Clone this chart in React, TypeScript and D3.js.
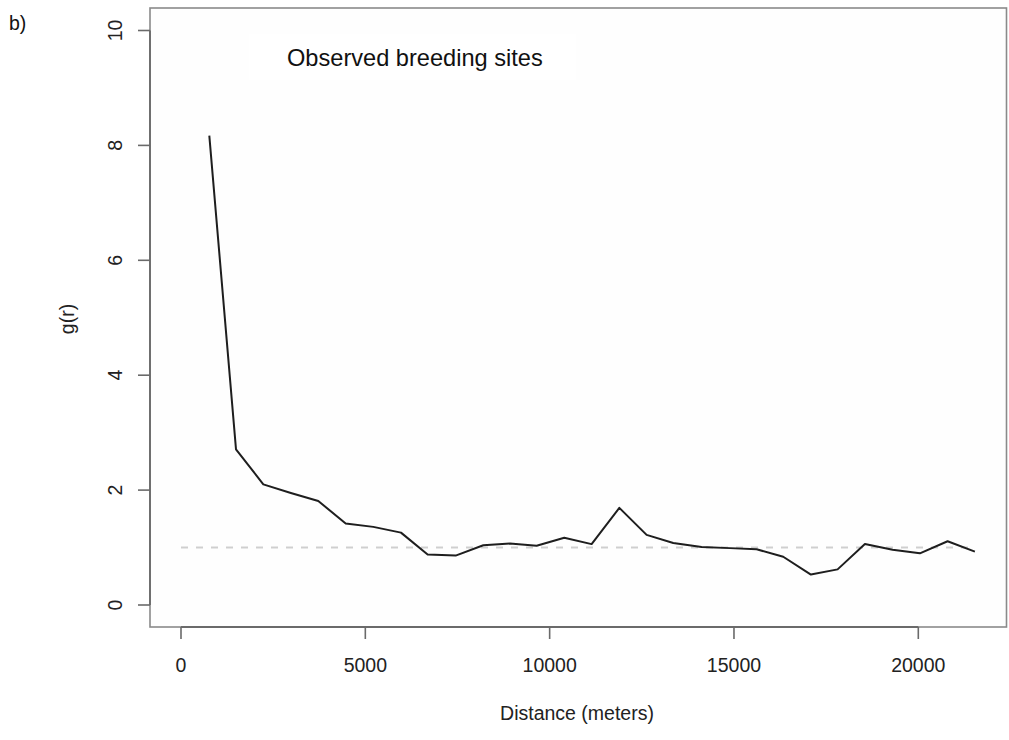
import * as d3 from 'd3';
import React from 'react';

// g(r) pair correlation values
const distances = [768, 1492, 2233, 2980, 3724, 4467, 5216, 5967, 6690, 7450, 8200, 8923, 9647, 10397, 11138,
  11890, 12630, 13353, 14122, 14890, 15614, 16336, 17087, 17811, 18552, 19303, 20043, 20795, 21535];
const gValues = [8.17, 2.71, 2.1, 1.95, 1.81, 1.42, 1.36, 1.26, 0.88, 0.86, 1.04, 1.07, 1.03, 1.17, 1.06,
  1.69, 1.22, 1.08, 1.01, 0.99, 0.97, 0.84, 0.53, 0.62, 1.06, 0.96, 0.90, 1.11, 0.93];
const xTicks = [0, 5000, 10000, 15000, 20000];
const yTicks = [0, 2, 4, 6, 8, 10];
const refLevel = 1;

const W = 1009;
const H = 740;
const font = '"Liberation Sans", Arial, sans-serif';

function App() {
  const x = d3.scaleLinear().domain([0, 20000]).range([181, 918.3]);
  const y = d3.scaleLinear().domain([0, 10]).range([605, 30.5]);

  const box = { left: 150, top: 8, right: 1006.5, bottom: 627 };

  const pts = distances.map((d, i) => [d, gValues[i]] as [number, number]);
  const line = d3.line<[number, number]>()
    .x((d) => x(d[0]))
    .y((d) => y(d[1]));

  const maxR = d3.max(distances) as number;

  return (
    <div style={{ position: 'absolute', left: 0, top: 0 }}>
      <svg width={W} height={H} style={{ display: 'block', background: '#fff' }}>
        <rect x={box.left} y={box.top} width={box.right - box.left} height={box.bottom - box.top} fill="#fefefe" />

        {/* legend label */}
        <rect x={249} y={34} width={327} height={46} fill="#ffffff" />
        <text x={287} y={66} fontFamily={font} fontSize={23.6} fill="#111">Observed breeding sites</text>

        {/* reference line g(r)=1 */}
        <line x1={x(0)} x2={x(maxR)} y1={y(refLevel)} y2={y(refLevel)}
          stroke="#cfcfcf" strokeWidth={2} strokeDasharray="7,8" />

        <path d={line(pts) as string} fill="none" stroke="#1e1e1e" strokeWidth={2} strokeLinejoin="round" />

        {/* frame */}
        <rect x={box.left} y={box.top} width={box.right - box.left} height={box.bottom - box.top}
          fill="none" stroke="#8a8a8a" strokeWidth={1.6} />

        {/* x axis */}
        <line x1={x(0)} x2={x(20000)} y1={box.bottom} y2={box.bottom} stroke="#6a6a6a" strokeWidth={1.8} />
        {xTicks.map((t) => (
          <g key={'x' + t}>
            <line x1={x(t)} x2={x(t)} y1={box.bottom} y2={box.bottom + 12} stroke="#6a6a6a" strokeWidth={1.6} />
            <text x={x(t)} y={672} textAnchor="middle" fontFamily={font} fontSize={19.5} fill="#222">{t}</text>
          </g>
        ))}
        <text x={577} y={720} textAnchor="middle" fontFamily={font} fontSize={19.5} fill="#222">Distance (meters)</text>

        {/* y axis */}
        <line x1={box.left} x2={box.left} y1={y(0)} y2={y(10)} stroke="#6a6a6a" strokeWidth={1.8} />
        {yTicks.map((t) => (
          <g key={'y' + t}>
            <line x1={box.left - 12} x2={box.left} y1={y(t)} y2={y(t)} stroke="#6a6a6a" strokeWidth={1.6} />
            <text transform={`translate(122,${y(t)}) rotate(-90)`} textAnchor="middle"
              fontFamily={font} fontSize={19.5} fill="#222">{t}</text>
          </g>
        ))}
        <text transform={`translate(74,319) rotate(-90)`} textAnchor="middle"
          fontFamily={font} fontSize={19.5} fill="#222">g(r)</text>

        <text x={9} y={30} fontFamily={font} fontSize={19.5} fill="#111">b)</text>
      </svg>
    </div>
  );
}

export default App;
